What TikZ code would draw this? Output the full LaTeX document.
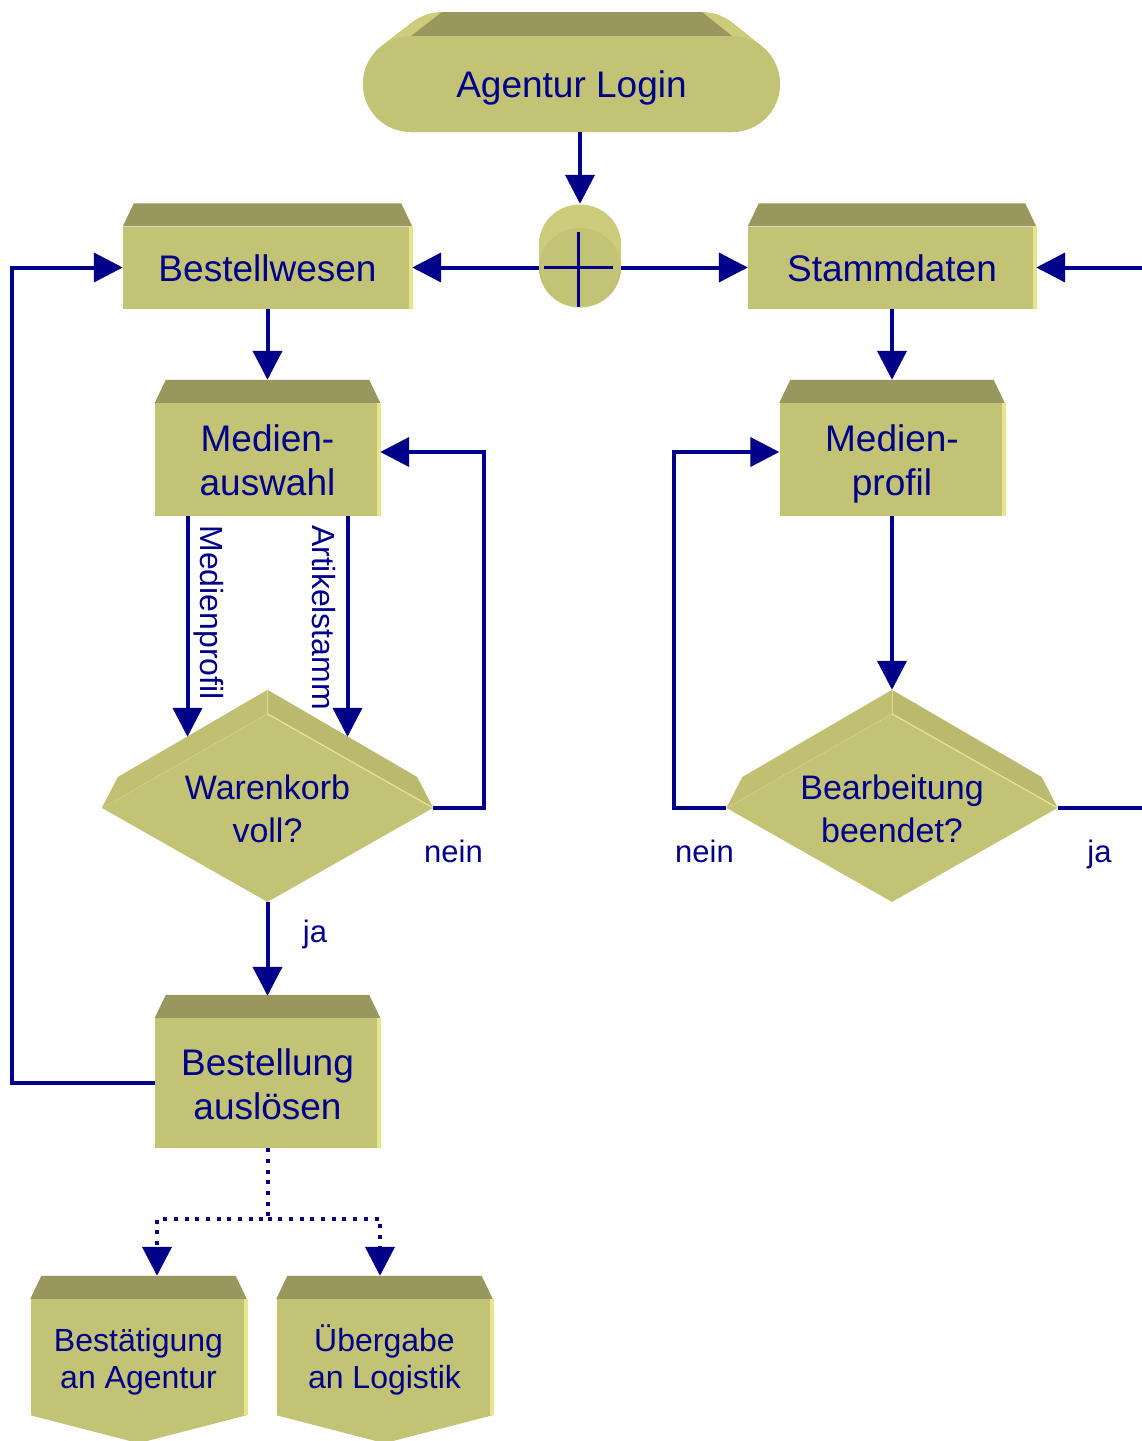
\documentclass[tikz,border=0pt]{standalone}
\usepackage{fontspec}
\setmainfont{Liberation Sans}
\usetikzlibrary{arrows.meta,shapes.geometric,calc}
\definecolor{front}{RGB}{195,195,118}
\definecolor{topc}{RGB}{153,151,93}
\definecolor{sidec}{RGB}{205,204,122}
\definecolor{stripc}{RGB}{232,230,140}
\definecolor{dfaceL}{RGB}{192,191,114}
\definecolor{dfaceR}{RGB}{186,185,109}
\definecolor{navy}{RGB}{0,0,136}
\newcommand\boxtop[1]{%
  \fill[topc] (#1.north west) -- ([shift={(11pt,23pt)}]#1.north west) -- ([shift={(-11pt,23pt)}]#1.north east) -- (#1.north east) -- cycle;
  \fill[stripc] ([xshift=-3pt]#1.north east) rectangle ([xshift=1pt]#1.south east);}
\newcommand\dtop[1]{%
  \fill[dfaceL] (#1.west) -- ([shift={(16pt,31pt)}]#1.west) -- ([yshift=24pt]#1.north) -- (#1.north) -- cycle;
  \fill[dfaceR] (#1.north) -- ([yshift=24pt]#1.north) -- ([shift={(-16pt,31pt)}]#1.east) -- (#1.east) -- cycle;
  \draw[stripc, line width=1.2pt] (#1.north) -- (#1.east);
  \draw[stripc!70!front, line width=0.8pt] (#1.north) -- ([yshift=24pt]#1.north);}
% text block whose first baseline sits #1 above the node centre
\newcommand\txt[2]{\makebox[0pt]{\raisebox{#1}[0pt][0pt]{\begin{tabular}[t]{@{}c@{}}#2\end{tabular}}}}
\begin{document}
\begin{tikzpicture}[x=1pt,y=-1pt,
  big/.style={font=\fontsize{37}{44}\selectfont, text=navy},
  small/.style={font=\fontsize{32}{37}\selectfont, text=navy},
  dfont/.style={font=\fontsize{34}{43}\selectfont, text=navy},
  lbl/.style={font=\fontsize{31}{37}\selectfont, text=navy},
  rlbl/.style={font=\fontsize{32}{38}\selectfont, text=navy},
  fnbox/.style={big, rectangle, fill=front, inner sep=0pt, minimum width=#1},
  sbox/.style={small, rectangle, fill=front, inner sep=0pt, minimum width=216pt, minimum height=116pt},
  dec/.style={dfont, diamond, fill=front, inner sep=0pt, minimum width=331pt, minimum height=188pt, aspect=1.76},
  flow/.style={draw=navy, line width=4pt, -{Triangle[length=29pt,width=29pt]}},
  plain/.style={draw=navy, line width=4pt},
  dotflow/.style={flow, dash pattern=on 4pt off 6.7pt},
]
\useasboundingbox (0,0) rectangle (1142,1441);

% start event
\foreach \t in {0,0.05,...,1.01} {
  \fill[sidec, rounded corners=48pt] ({394-31*\t},{12+24*\t}) rectangle ({750+30*\t},{108+24*\t});
}
\fill[topc] (442,12) -- (702,12) -- (732,36) -- (411,36) -- cycle;
\node[big, fill=front, rounded corners=48pt, minimum width=417pt, minimum height=96pt, inner sep=0pt] (login) at (571.5,84) {\txt{-13pt}{Agentur Login}};

% connector
\foreach \t in {0,0.05,...,1.01} {
  \fill[sidec] (580,{244+24*\t}) ellipse [x radius=41, y radius=39.5];
}
\node[ellipse, fill=front, minimum width=82pt, minimum height=79pt, inner sep=0pt] (conn) at (580,267.5) {};
\draw[navy, line width=3pt] ([xshift=-36pt]conn.center) -- ([xshift=33pt]conn.center);
\draw[navy, line width=3pt] ([yshift=36pt,xshift=-2pt]conn.center) -- ([yshift=-39pt,xshift=-2pt]conn.center);

% functions
\node[fnbox=289pt, minimum height=82pt] (bw) at (267.5,267.5) {\txt{-13.5pt}{Bestellwesen}};
\boxtop{bw}
\node[fnbox=288pt, minimum height=82pt] (sd) at (892,267.5) {\txt{-13.5pt}{Stammdaten}};
\boxtop{sd}
\node[fnbox=225pt, minimum height=113pt] (ma) at (267.5,459.5) {\txt{8.5pt}{Medien-\\auswahl}};
\boxtop{ma}
\node[fnbox=225pt, minimum height=113pt] (mp) at (892,459.5) {\txt{8.5pt}{Medien-\\profil}};
\boxtop{mp}
\node[fnbox=225pt, minimum height=130pt] (bl) at (267.5,1083) {\txt{7.5pt}{Bestellung\\auslösen}};
\boxtop{bl}

% decisions
\node[dec] (wk) at (267.5,808) {\txt{9pt}{Warenkorb\\voll?}};
\dtop{wk}
\node[dec] (bb) at (892,808) {\txt{9pt}{Bearbeitung\\beendet?}};
\dtop{bb}

% end boxes
\node[sbox] (ba) at (138.5,1357) {\txt{5.5pt}{Bestätigung\\an Agentur}};
\fill[front] (ba.south west) -- ($(ba.south)+(0,28)$) -- (ba.south east) -- cycle;
\boxtop{ba}
\node[sbox] (ul) at (384.5,1357) {\txt{5.5pt}{Übergabe\\an Logistik}};
\fill[front] (ul.south west) -- ($(ul.south)+(0,28)$) -- (ul.south east) -- cycle;
\boxtop{ul}

% connectors
\coordinate (entR) at (1150,267.5);
\coordinate (exitR) at (1150,808);
\coordinate (split) at (267.5,1219);
\draw[flow] (login.south -| conn.north) -- ([yshift=24pt]conn.north);
\draw[flow] (conn.west) -- (bw.east);
\draw[flow] (conn.east) -- (sd.west);
\draw[flow] (bw.south) -- ([yshift=23pt]ma.north);
\draw[flow] (sd.south) -- ([yshift=23pt]mp.north);
\draw[flow] ([xshift=-80pt]ma.south) -- ([shift={(-80pt,-23pt)}]wk.north);
\draw[flow] ([xshift=80pt]ma.south) -- ([shift={(80pt,-23pt)}]wk.north);
\draw[flow] (wk.east) -- ++(51,0) |- ([yshift=7.5pt]ma.east);
\draw[flow] (wk.south) -- ([yshift=22pt]bl.north);
\draw[flow] (bl.west) -- ++(-143,0) |- (bw.west);
\draw[flow] (mp.south) -- ([yshift=24pt]bb.north);
\draw[flow] (bb.west) -- ++(-52,0) |- ([yshift=7.5pt]mp.west);
\draw[plain] (bb.east) -- (exitR);
\draw[flow] (entR) -- (sd.east);
\draw[dotflow] (bl.south) -- (split) -| ([shift={(18.5pt,23pt)}]ba.north);
\draw[dotflow] (split) -| ([shift={(-4.5pt,23pt)}]ul.north);

% labels
\node[rlbl, rotate=-90] (lmp) at (208.5,612.5) {Medienprofil};
\node[rlbl, rotate=-90] (lak) at (323.5,617.5) {Artikelstamm};
\node[lbl, anchor=base] (n1) at (453.5,862) {nein};
\node[lbl, anchor=base] (j1) at (315,942) {ja};
\node[lbl, anchor=base] (n2) at (704.5,862) {nein};
\node[lbl, anchor=base] (j2) at (1099.5,862) {ja};
\end{tikzpicture}
\end{document}
